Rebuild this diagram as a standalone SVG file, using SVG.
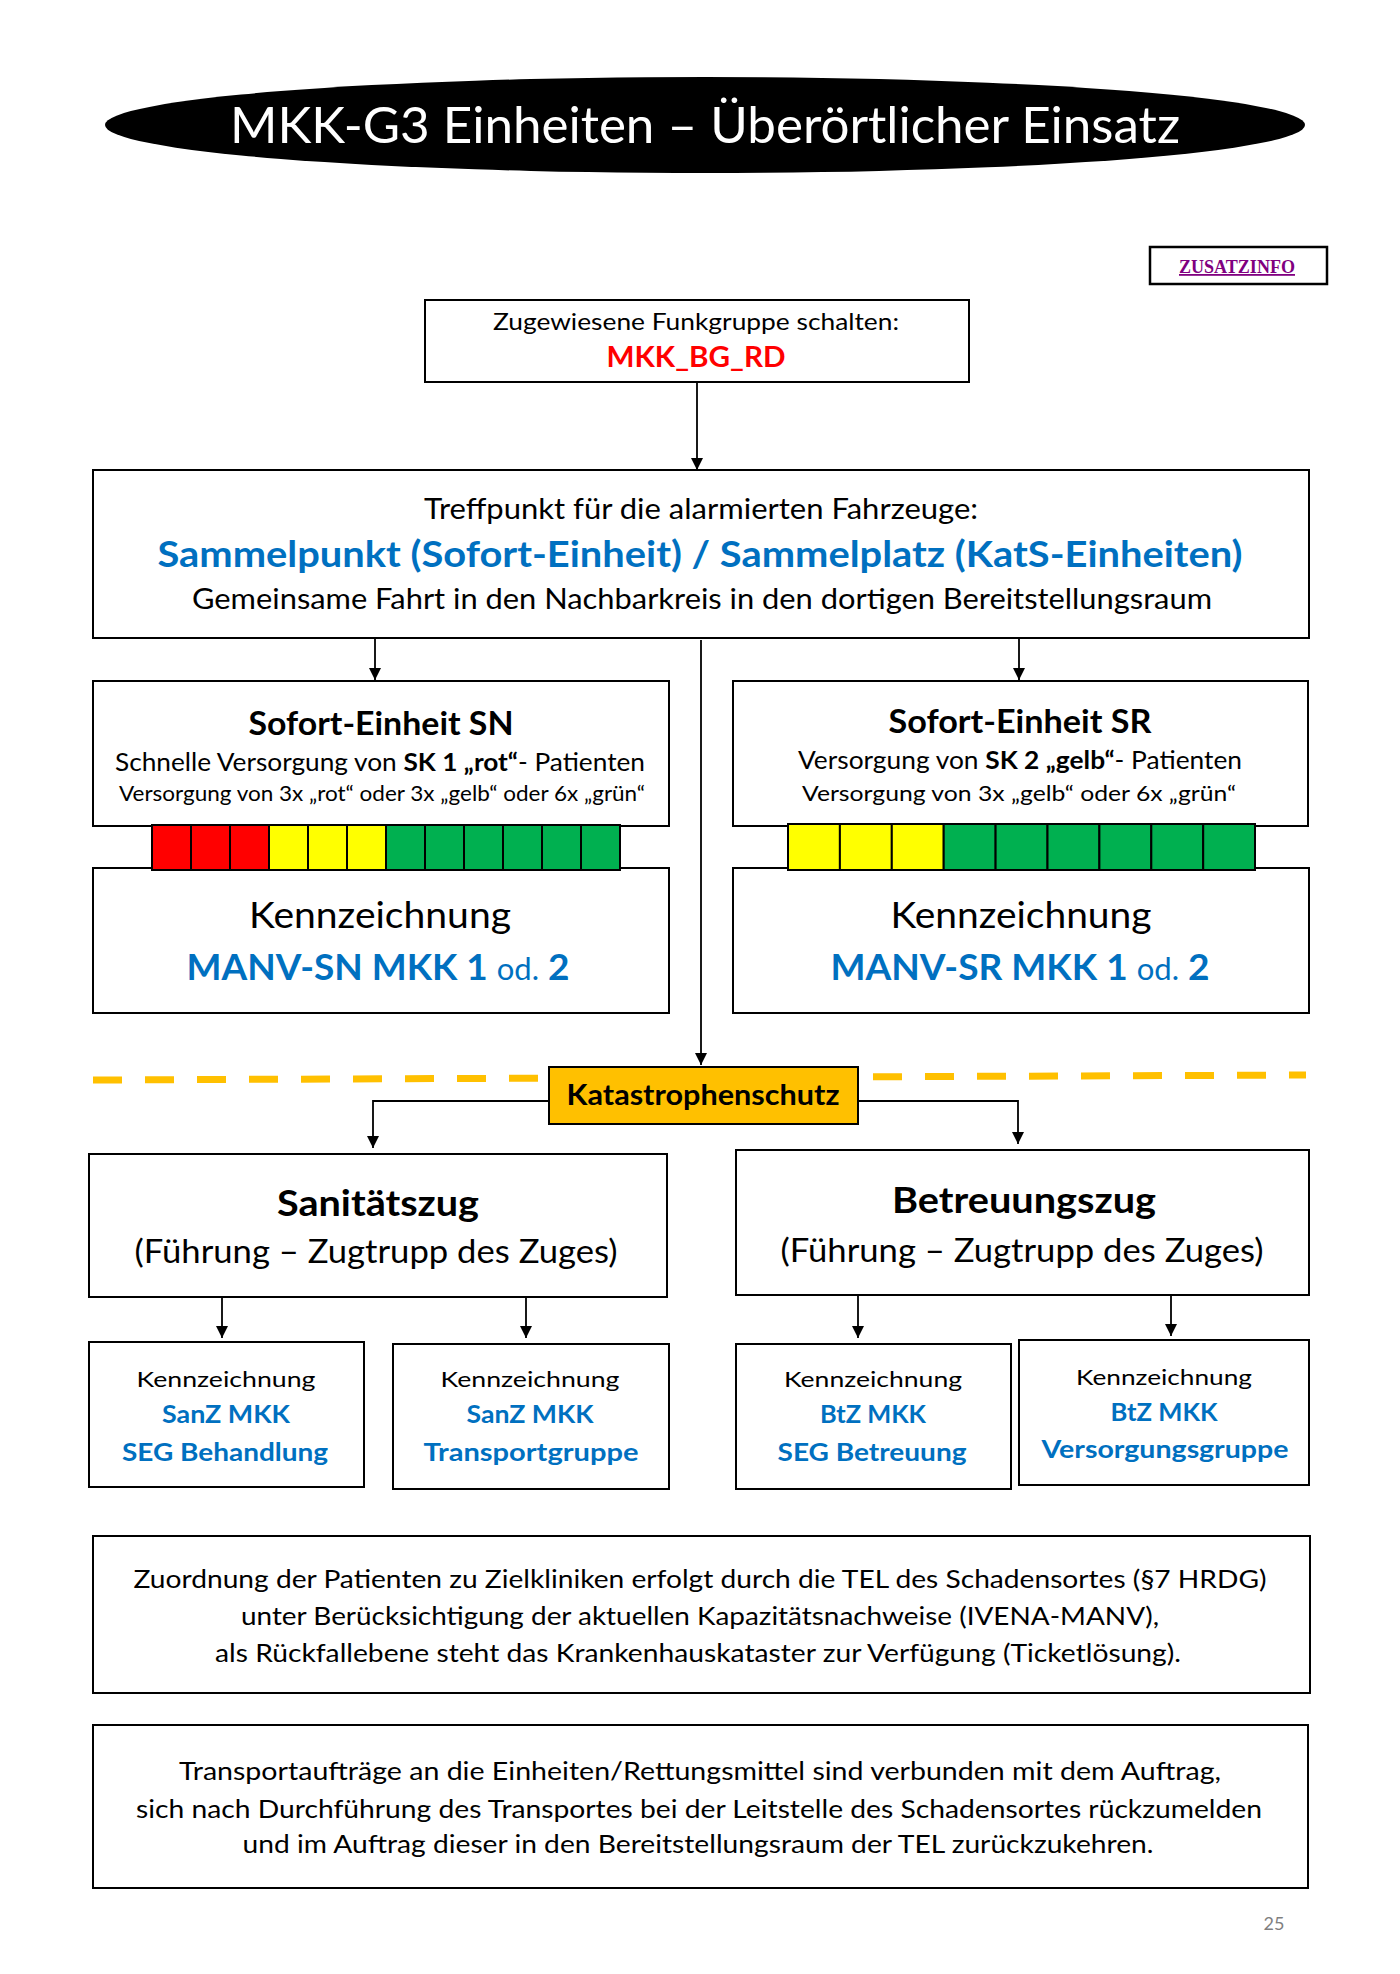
<svg xmlns="http://www.w3.org/2000/svg" width="1400" height="1974" viewBox="0 0 1400 1974" xml:space="preserve">
<defs>
<marker id="ah" markerUnits="userSpaceOnUse" markerWidth="12" markerHeight="14" refX="12" refY="6" orient="auto">
<path d="M0,0 L12,6 L0,12 z" fill="#000"/>
</marker>
</defs>
<style>
text{font-family:Lato,"Open Sans","Liberation Sans",sans-serif;text-anchor:middle;fill:#000}
.box{fill:#fff;stroke:#000;stroke-width:2}
.con{fill:none;stroke:#000;stroke-width:1.8}
.b{font-weight:bold}
.blue{fill:#0070C0;font-weight:bold}
.cell{stroke:#000;stroke-width:2}
.r{fill:#FF0000}.y{fill:#FFFF00}.g{fill:#00B050}
</style>
<rect width="1400" height="1974" fill="#fff"/>
<g id="connectors">
<line class="con" x1="697" y1="383" x2="697" y2="470" marker-end="url(#ah)"/>
<line class="con" x1="375" y1="638" x2="375" y2="680" marker-end="url(#ah)"/>
<line class="con" x1="1019" y1="638" x2="1019" y2="680" marker-end="url(#ah)"/>
<line class="con" x1="701" y1="640" x2="701" y2="1065" marker-end="url(#ah)"/>
<line x1="93" y1="1080" x2="1306" y2="1075" stroke="#FFC000" stroke-width="7" stroke-dasharray="29 23"/>
<polyline class="con" points="549,1101 373,1101 373,1148" marker-end="url(#ah)"/>
<polyline class="con" points="858,1101 1018,1101 1018,1144" marker-end="url(#ah)"/>
<line class="con" x1="222" y1="1298" x2="222" y2="1338" marker-end="url(#ah)"/>
<line class="con" x1="526" y1="1298" x2="526" y2="1338" marker-end="url(#ah)"/>
<line class="con" x1="858" y1="1296" x2="858" y2="1338" marker-end="url(#ah)"/>
<line class="con" x1="1171" y1="1296" x2="1171" y2="1336" marker-end="url(#ah)"/>
</g>
<g id="title">
<ellipse cx="705" cy="125" rx="600" ry="48" fill="#000"/>
<text x="705" y="143" font-size="50" style="fill:#fff" textLength="950" lengthAdjust="spacingAndGlyphs">MKK-G3 Einheiten – Überörtlicher Einsatz</text>
</g>
<g id="zusatzinfo">
<rect x="1150" y="247" width="177" height="37" fill="#fff" stroke="#000" stroke-width="2.5"/>
<text x="1237" y="273" font-size="18" style="font-family:'Liberation Serif',serif;font-weight:bold;fill:#800080;text-decoration:underline" textLength="116" lengthAdjust="spacingAndGlyphs">ZUSATZINFO</text>
</g>
<g id="funkgruppe">
<rect class="box" x="425" y="300" width="544" height="82"/>
<text x="696" y="330" font-size="24" textLength="406" lengthAdjust="spacingAndGlyphs">Zugewiesene Funkgruppe schalten:</text>
<text x="696" y="367" font-size="28" class="b" style="fill:#FF0000" textLength="179" lengthAdjust="spacingAndGlyphs">MKK_BG_RD</text>
</g>
<g id="treffpunkt">
<rect class="box" x="93" y="470" width="1216" height="168"/>
<text x="701" y="519" font-size="29" textLength="554" lengthAdjust="spacingAndGlyphs">Treffpunkt für die alarmierten Fahrzeuge:</text>
<text x="700" y="567" font-size="36" class="blue" textLength="1085" lengthAdjust="spacingAndGlyphs">Sammelpunkt (Sofort-Einheit) / Sammelplatz (KatS-Einheiten)</text>
<text x="702" y="609" font-size="29" textLength="1020" lengthAdjust="spacingAndGlyphs">Gemeinsame Fahrt in den Nachbarkreis in den dortigen Bereitstellungsraum</text>
</g>
<g id="sofort-sn">
<rect class="box" x="93" y="681" width="576" height="145"/>
<rect class="box" x="93" y="868" width="576" height="145"/>
<text x="381" y="735" font-size="33" class="b" textLength="265" lengthAdjust="spacingAndGlyphs">Sofort-Einheit SN</text>
<text x="380" y="771" font-size="25" textLength="530" lengthAdjust="spacingAndGlyphs">Schnelle Versorgung von <tspan class="b">SK 1 „rot“</tspan>- Patienten</text>
<text x="382" y="801" font-size="22" textLength="526" lengthAdjust="spacingAndGlyphs">Versorgung von 3x „rot“ oder 3x „gelb“ oder 6x „grün“</text>
<g>
<rect class="cell r" x="152" y="825" width="39" height="45"/>
<rect class="cell r" x="191" y="825" width="39" height="45"/>
<rect class="cell r" x="230" y="825" width="39" height="45"/>
<rect class="cell y" x="269" y="825" width="39" height="45"/>
<rect class="cell y" x="308" y="825" width="39" height="45"/>
<rect class="cell y" x="347" y="825" width="39" height="45"/>
<rect class="cell g" x="386" y="825" width="39" height="45"/>
<rect class="cell g" x="425" y="825" width="39" height="45"/>
<rect class="cell g" x="464" y="825" width="39" height="45"/>
<rect class="cell g" x="503" y="825" width="39" height="45"/>
<rect class="cell g" x="542" y="825" width="39" height="45"/>
<rect class="cell g" x="581" y="825" width="39" height="45"/>
</g>
<text x="380" y="928" font-size="36" textLength="262" lengthAdjust="spacingAndGlyphs">Kennzeichnung</text>
<text x="378" y="980" font-size="37" class="blue" textLength="383" lengthAdjust="spacingAndGlyphs">MANV-SN MKK 1 <tspan style="font-weight:normal" font-size="31">od.</tspan> 2</text>
</g>
<g id="sofort-sr">
<rect class="box" x="733" y="681" width="575" height="145"/>
<rect class="box" x="733" y="868" width="576" height="145"/>
<text x="1020" y="733" font-size="33" class="b" textLength="263" lengthAdjust="spacingAndGlyphs">Sofort-Einheit SR</text>
<text x="1020" y="769" font-size="25" textLength="444" lengthAdjust="spacingAndGlyphs">Versorgung von <tspan class="b">SK 2 „gelb“</tspan>- Patienten</text>
<text x="1019" y="801" font-size="22" textLength="434" lengthAdjust="spacingAndGlyphs">Versorgung  von 3x „gelb“ oder 6x „grün“</text>
<g>
<rect class="cell y" x="788" y="824" width="51.9" height="46"/>
<rect class="cell y" x="839.9" y="824" width="51.9" height="46"/>
<rect class="cell y" x="891.8" y="824" width="51.9" height="46"/>
<rect class="cell g" x="943.7" y="824" width="51.9" height="46"/>
<rect class="cell g" x="995.6" y="824" width="51.9" height="46"/>
<rect class="cell g" x="1047.5" y="824" width="51.9" height="46"/>
<rect class="cell g" x="1099.4" y="824" width="51.9" height="46"/>
<rect class="cell g" x="1151.3" y="824" width="51.9" height="46"/>
<rect class="cell g" x="1203.2" y="824" width="51.8" height="46"/>
</g>
<text x="1021" y="928" font-size="36" textLength="261" lengthAdjust="spacingAndGlyphs">Kennzeichnung</text>
<text x="1020" y="980" font-size="37" class="blue" textLength="379" lengthAdjust="spacingAndGlyphs">MANV-SR MKK 1 <tspan style="font-weight:normal" font-size="31">od.</tspan> 2</text>
</g>
<g id="katastrophenschutz">
<rect x="549" y="1067" width="309" height="57" fill="#FFC000" stroke="#000" stroke-width="2"/>
<text x="703" y="1105" font-size="28" class="b" textLength="273" lengthAdjust="spacingAndGlyphs">Katastrophenschutz</text>
</g>
<g id="sanitaetszug">
<rect class="box" x="89" y="1154" width="578" height="143"/>
<text x="378" y="1216" font-size="37" class="b" textLength="202" lengthAdjust="spacingAndGlyphs">Sanitätszug</text>
<text x="376" y="1263" font-size="32" textLength="483" lengthAdjust="spacingAndGlyphs">(Führung – Zugtrupp des Zuges)</text>
</g>
<g id="betreuungszug">
<rect class="box" x="736" y="1150" width="573" height="145"/>
<text x="1024" y="1213" font-size="37" class="b" textLength="264" lengthAdjust="spacingAndGlyphs">Betreuungszug</text>
<text x="1022" y="1262" font-size="32" textLength="483" lengthAdjust="spacingAndGlyphs">(Führung – Zugtrupp des Zuges)</text>
</g>
<g id="seg-behandlung">
<rect class="box" x="89" y="1342" width="275" height="145"/>
<text x="226" y="1387" font-size="21" textLength="179" lengthAdjust="spacingAndGlyphs">Kennzeichnung</text>
<text x="226" y="1423" font-size="24" class="blue" textLength="128" lengthAdjust="spacingAndGlyphs">SanZ MKK</text>
<text x="225" y="1461" font-size="24" class="blue" textLength="206" lengthAdjust="spacingAndGlyphs">SEG Behandlung</text>
</g>
<g id="transportgruppe">
<rect class="box" x="393" y="1344" width="276" height="145"/>
<text x="530" y="1387" font-size="21" textLength="179" lengthAdjust="spacingAndGlyphs">Kennzeichnung</text>
<text x="530" y="1423" font-size="24" class="blue" textLength="127" lengthAdjust="spacingAndGlyphs">SanZ MKK</text>
<text x="531" y="1461" font-size="24" class="blue" textLength="215" lengthAdjust="spacingAndGlyphs">Transportgruppe</text>
</g>
<g id="seg-betreuung">
<rect class="box" x="736" y="1344" width="275" height="145"/>
<text x="873" y="1387" font-size="21" textLength="178" lengthAdjust="spacingAndGlyphs">Kennzeichnung</text>
<text x="873" y="1423" font-size="24" class="blue" textLength="106" lengthAdjust="spacingAndGlyphs">BtZ MKK</text>
<text x="872" y="1461" font-size="24" class="blue" textLength="189" lengthAdjust="spacingAndGlyphs">SEG Betreuung</text>
</g>
<g id="versorgungsgruppe">
<rect class="box" x="1019" y="1340" width="290" height="145"/>
<text x="1164" y="1385" font-size="21" textLength="176" lengthAdjust="spacingAndGlyphs">Kennzeichnung</text>
<text x="1164" y="1421" font-size="24" class="blue" textLength="107" lengthAdjust="spacingAndGlyphs">BtZ MKK</text>
<text x="1165" y="1458" font-size="24" class="blue" textLength="247" lengthAdjust="spacingAndGlyphs">Versorgungsgruppe</text>
</g>
<g id="zuordnung">
<rect class="box" x="93" y="1536" width="1217" height="157"/>
<text x="700" y="1588" font-size="25" textLength="1133" lengthAdjust="spacingAndGlyphs">Zuordnung  der Patienten zu Zielkliniken erfolgt durch  die TEL des Schadensortes  (§7 HRDG)</text>
<text x="700" y="1625" font-size="25" textLength="918" lengthAdjust="spacingAndGlyphs">unter  Berücksichtigung  der aktuellen Kapazitätsnachweise  (IVENA-MANV),</text>
<text x="698" y="1662" font-size="25" textLength="966" lengthAdjust="spacingAndGlyphs">als Rückfallebene  steht das Krankenhauskataster  zur Verfügung  (Ticketlösung).</text>
</g>
<g id="transportauftraege">
<rect class="box" x="93" y="1725" width="1215" height="163"/>
<text x="700" y="1780" font-size="25" textLength="1042" lengthAdjust="spacingAndGlyphs">Transportaufträge  an die Einheiten/Rettungsmittel  sind verbunden  mit dem Auftrag,</text>
<text x="699" y="1818" font-size="25" textLength="1126" lengthAdjust="spacingAndGlyphs">sich nach Durchführung  des Transportes  bei der Leitstelle des Schadensortes  rückzumelden</text>
<text x="698" y="1853" font-size="25" textLength="911" lengthAdjust="spacingAndGlyphs">und  im Auftrag  dieser in den Bereitstellungsraum  der TEL zurückzukehren.</text>
</g>
<g id="page-number">
<text x="1274" y="1930" font-size="18" style="fill:#7F7F7F">25</text>
</g>
</svg>
